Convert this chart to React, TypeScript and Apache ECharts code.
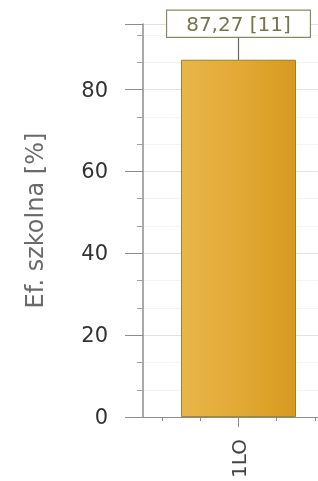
import React, { useEffect, useRef } from "react";
import * as echarts from "echarts";

const categories = ["1LO"];
const values = [87.27];
const counts = [11];
const tickSlots = ["", "", "", "", ""];
const yTicks = [0, 20, 40, 60, 80];

const FONT = "DejaVu Sans";

export default function App() {
  const ref = useRef<HTMLDivElement>(null);
  useEffect(() => {
    document.body.style.margin = "0";
    const chart = echarts.init(ref.current!, null, { renderer: "svg" });
    chart.setOption({
      animation: false,
      grid: { left: 143, top: 24, height: 400, width: 191, containLabel: false },
      xAxis: [
        {
          type: "category",
          data: categories,
          position: "bottom",
          axisLine: { show: true, lineStyle: { color: "#8c8c8c", width: 1 } },
          axisTick: { show: true, alignWithLabel: true, length: 10, lineStyle: { color: "#8c8c8c" } },
          axisLabel: { rotate: 90, margin: 22, fontSize: 20, color: "#444", fontFamily: FONT },
          splitLine: { show: false },
        },
        {
          type: "category",
          data: tickSlots,
          position: "bottom",
          gridIndex: 0,
          axisLine: { show: false },
          axisTick: { show: true, alignWithLabel: true, length: 4, lineStyle: { color: "#8c8c8c" } },
          axisLabel: { show: false },
          splitLine: { show: false },
        },
      ],
      yAxis: {
        type: "value",
        min: yTicks[0],
        max: 96,
        interval: yTicks[1] - yTicks[0],
        name: "Ef. szkolna [%]",
        nameLocation: "middle",
        nameGap: 96,
        nameTextStyle: { fontSize: 24, color: "#6a6a6a", fontFamily: FONT },
        axisLine: { show: true, lineStyle: { color: "#8c8c8c", width: 1.5 } },
        axisTick: { show: true, inside: false, length: 18, lineStyle: { color: "#8c8c8c" } },
        minorTick: { show: true, splitNumber: 3, length: 6, lineStyle: { color: "#a0a0a0" } },
        minorSplitLine: { show: true, lineStyle: { color: "#f4f4f4" } },
        axisLabel: {
          margin: 35,
          fontSize: 21,
          color: "#333",
          fontFamily: FONT,
          showMaxLabel: false,
        },
        splitLine: { show: true, lineStyle: { color: "#e2e2e2" } },
      },
      series: [
        {
          type: "bar",
          xAxisIndex: 0,
          data: values,
          barWidth: 115,
          itemStyle: {
            color: new echarts.graphic.LinearGradient(0, 0, 1, 0, [
              { offset: 0, color: "#e9b64a" },
              { offset: 0.5, color: "#e2a935" },
              { offset: 1, color: "#d69a1e" },
            ]),
            borderColor: "#a47c22",
            borderWidth: 1,
          },
          label: {
            show: true,
            position: "top",
            distance: 5,
            formatter: (p: any) =>
              values[p.dataIndex].toFixed(2).replace(".", ",") + " [" + counts[p.dataIndex] + "]",
            fontSize: 20,
            fontFamily: FONT,
            color: "#76764a",
            backgroundColor: "#ffffff",
            borderColor: "#8a8a5c",
            borderWidth: 1.2,
            padding: [2, 19, 2, 19],
            lineHeight: 22,
          },
          labelLayout: { dy: -18 },
          labelLine: { show: true, lineStyle: { color: "#666", width: 1.2 } },
        },
      ],
    });
    return () => chart.dispose();
  }, []);
  return <div ref={ref} style={{ position: "fixed", left: 0, top: 0, width: 340, height: 481 }} />;
}
